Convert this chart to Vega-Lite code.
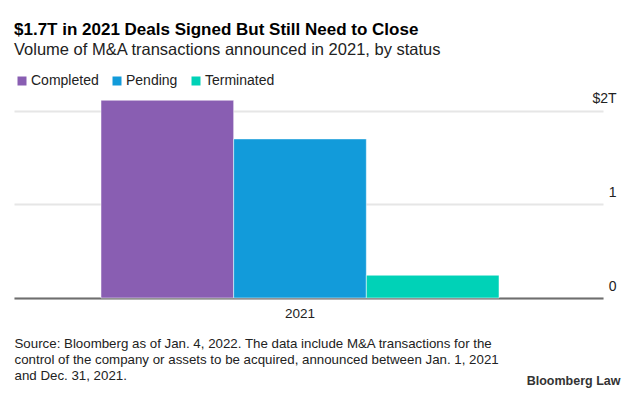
{
  "$schema": "https://vega.github.io/schema/vega-lite/v6.json",
  "width": 589,
  "height": 206,
  "autosize": {"type": "none"},
  "padding": {"left": 14, "top": 92, "right": 30, "bottom": 95},
  "background": "white",
  "config": {
    "font": "Liberation Sans",
    "view": {"stroke": null}
  },
  "title": {
    "text": "$1.7T in 2021 Deals Signed But Still Need to Close",
    "subtitle": "Volume of M&A transactions announced in 2021, by status",
    "anchor": "start",
    "frame": "group",
    "fontSize": 17,
    "fontWeight": "bold",
    "color": "#000000",
    "subtitleFontSize": 16.5,
    "subtitleColor": "#222222",
    "subtitlePadding": 3,
    "offset": 15
  },
  "data": {
    "values": [
      {"year": "2021", "status": "Completed", "value": 2.112},
      {"year": "2021", "status": "Pending", "value": 1.699},
      {"year": "2021", "status": "Terminated", "value": 0.243}
    ]
  },
  "mark": {"type": "bar", "stroke": "#ffffff", "strokeWidth": 1, "strokeOpacity": 0.5},
  "encoding": {
    "x": {
      "field": "year",
      "type": "nominal",
      "scale": {"paddingInner": 0, "paddingOuter": 0.23995, "align": 0.4555},
      "axis": {
        "labelAngle": 0,
        "labelFontSize": 13.5,
        "labelColor": "#222222",
        "labelBaseline": "alphabetic",
        "labelPadding": 19,
        "ticks": false,
        "tickSize": 0,
        "domain": true,
        "domainColor": "#6e6e6e",
        "domainWidth": 2,
        "title": [
          "Source: Bloomberg as of Jan. 4, 2022. The data include M&A transactions for the",
          "control of the company or assets to be acquired, announced between Jan. 1, 2021",
          "and Dec. 31, 2021."
        ],
        "titleFontSize": 13.3,
        "titleFontWeight": "normal",
        "titleColor": "#222222",
        "titleAlign": "left",
        "titleAnchor": "start",
        "titleBaseline": "alphabetic",
        "titleX": 0,
        "titleY": 49,
        "titleLineHeight": 16
      }
    },
    "xOffset": {
      "field": "status",
      "type": "nominal",
      "sort": ["Completed", "Pending", "Terminated"],
      "scale": {"paddingInner": 0, "paddingOuter": 0}
    },
    "y": {
      "field": "value",
      "type": "quantitative",
      "scale": {"domain": [0, 2.2], "nice": false, "zero": true},
      "axis": {
        "orient": "right",
        "values": [0, 1, 2],
        "labelExpr": "datum.value == 2 ? '$2T' : toString(datum.value) + '\u2007\u2009'",
        "labelAlign": "right",
        "labelBaseline": "alphabetic",
        "labelOffset": -8,
        "labelPadding": 13,
        "labelFontSize": 14,
        "labelColor": "#222222",
        "ticks": false,
        "tickSize": 0,
        "domain": false,
        "grid": true,
        "gridColor": "#e6e6e6",
        "gridWidth": 2,
        "title": "Bloomberg Law",
        "titleAngle": 0,
        "titleAlign": "right",
        "titleBaseline": "alphabetic",
        "titleX": 17,
        "titleY": 292,
        "titleFontSize": 12.5,
        "titleFontWeight": "bold",
        "titleColor": "#333333"
      }
    },
    "color": {
      "field": "status",
      "type": "nominal",
      "scale": {
        "domain": ["Completed", "Pending", "Terminated"],
        "range": ["#895eb2", "#129bda", "#00d2b7"]
      },
      "legend": {
        "title": null,
        "orient": "none",
        "legendX": 1,
        "legendY": -18,
        "direction": "horizontal",
        "symbolType": "square",
        "symbolSize": 81,
        "symbolStrokeWidth": 0,
        "symbolOpacity": 1,
        "labelFontSize": 14,
        "labelColor": "#222222",
        "labelOffset": 2,
        "columnPadding": 11
      }
    }
  }
}
